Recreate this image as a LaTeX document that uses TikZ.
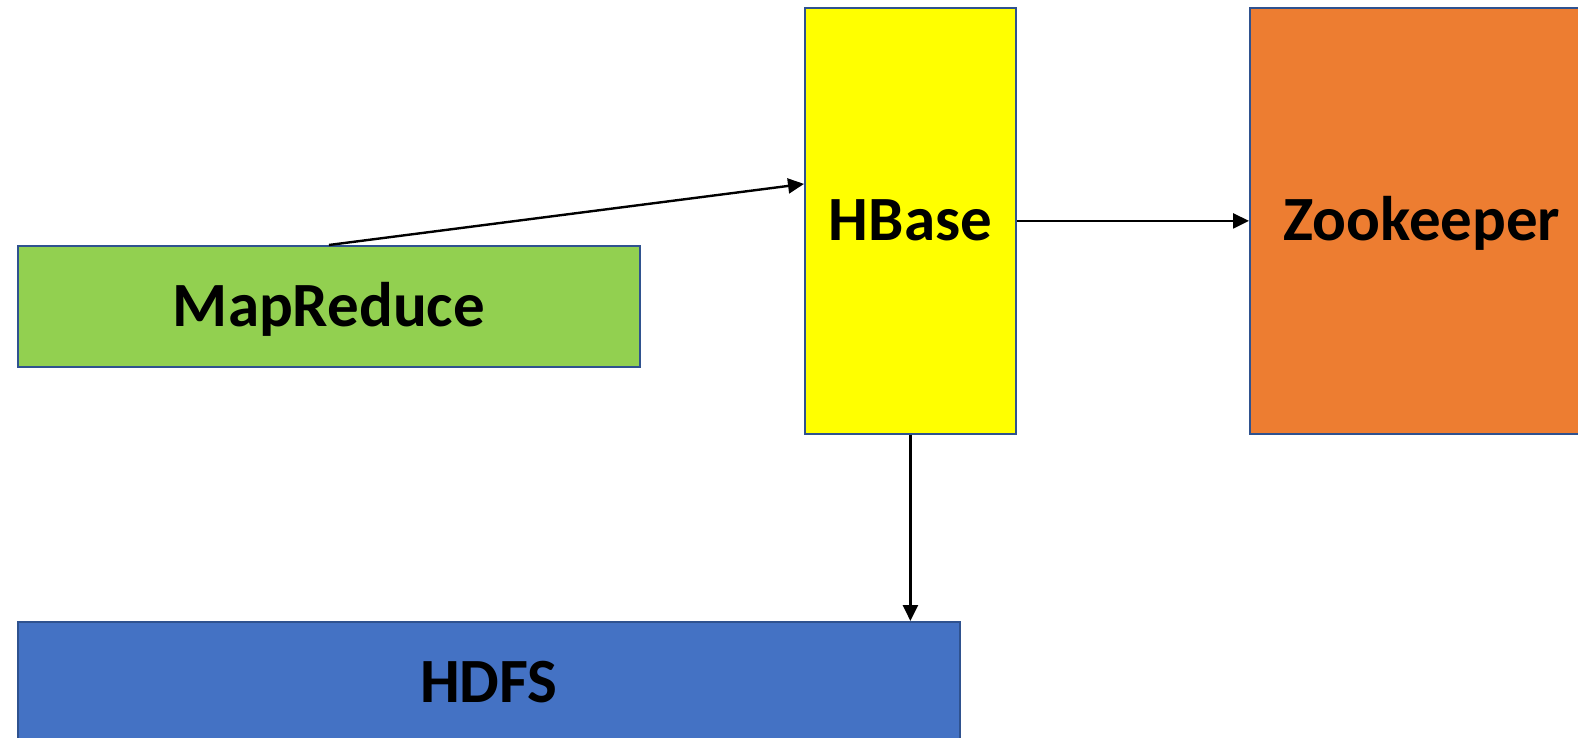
\documentclass[tikz,border=0pt]{standalone}
\usepackage{fontspec}
\setmainfont{Carlito}
\usetikzlibrary{arrows.meta}
\definecolor{mrgreen}{HTML}{92D050}
\definecolor{hbyellow}{HTML}{FFFF00}
\definecolor{zkorange}{HTML}{ED7D31}
\definecolor{hdblue}{HTML}{4472C4}
\definecolor{edgeblue}{HTML}{2F528F}
\tikzset{
  box/.style={draw=edgeblue, line width=1.8pt, anchor=north west, inner sep=0pt,
    text height=40pt, text depth=0pt,
    font=\fontsize{63}{63}\selectfont\bfseries, text=black},
  conn/.style={line width=2.4pt, draw=black, -{Triangle[length=16pt,width=15pt]}}
}
\begin{document}
\begin{tikzpicture}[x=1pt,y=-1pt]
\clip (0,0) rectangle (1578,738);
\fill[white] (0,0) rectangle (1578,738);
\node[box, fill=mrgreen, minimum width=622pt, minimum height=121pt] (mr) at (17,245) {MapReduce};
\node[box, fill=hbyellow, minimum width=211pt, minimum height=426pt] (hb) at (804,7) {HBase};
\node[box, fill=zkorange, minimum width=344pt, minimum height=426pt] (zk) at (1249,7) {Zookeeper};
\node[box, fill=hdblue, minimum width=942pt, minimum height=122pt] (hd) at (17,621) {HDFS};
\draw[conn] (mr.north) -- ([yshift=37pt]hb.west);
\draw[conn] (hb.east) -- (zk.west);
\draw[conn] (hb.south) -- (hb.south |- hd.north);
\end{tikzpicture}
\end{document}
